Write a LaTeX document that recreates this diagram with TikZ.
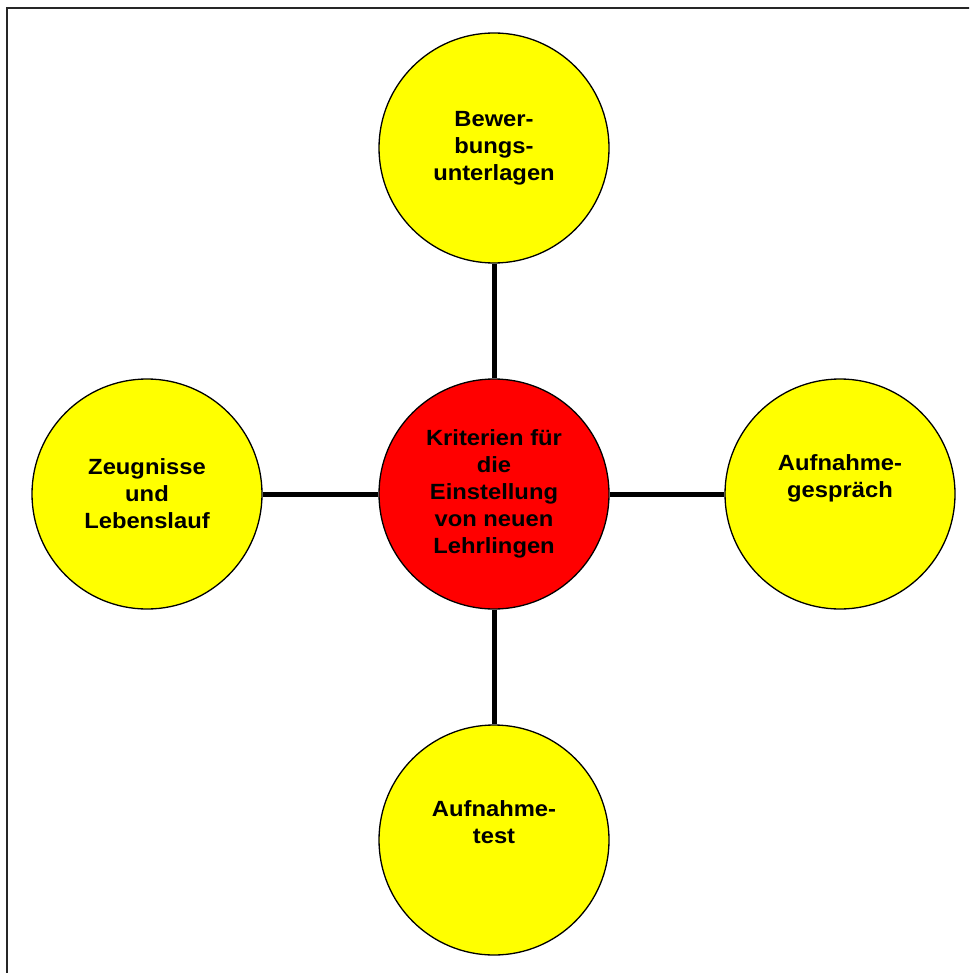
\documentclass[tikz,border=0pt]{standalone}
\usepackage{fontspec}
\setmainfont{Liberation Sans}[FakeStretch=1.08]
\definecolor{leafyellow}{RGB}{255,255,0}
\definecolor{hubred}{RGB}{255,0,0}
\begin{document}
\begin{tikzpicture}[x=1pt,y=-1pt,
  bubble/.style={circle,draw=black,line width=1.3pt,minimum size=230pt,inner sep=0pt,
    align=center,font=\fontsize{22}{27}\selectfont\bfseries},
  leaf/.style={bubble,fill=leafyellow},
  hub/.style={bubble,fill=hubred},
  link/.style={line width=5pt}]
\useasboundingbox (0,0) rectangle (969,973);
\clip (0,0) rectangle (969,973);
\draw[line width=2pt,black!85] (7,8) rectangle (1000,1000);
\node[hub]  (c) at (494,494) {Kriterien für\\die\\Einstellung\\von neuen\\Lehrlingen};
\node[leaf] (t) at (494,148) {Bewer-\\bungs-\\unterlagen};
\node[leaf] (l) at (147,494) {Zeugnisse\\und\\Lebenslauf};
\node[leaf] (r) at (840,494) {Aufnahme-\\gespräch\\\strut};
\node[leaf] (b) at (494,840) {Aufnahme-\\test\\\strut};
\draw[link] (c) -- (t);
\draw[link] (c) -- (l);
\draw[link] (c) -- (r);
\draw[link] (c) -- (b);
\end{tikzpicture}
\end{document}
